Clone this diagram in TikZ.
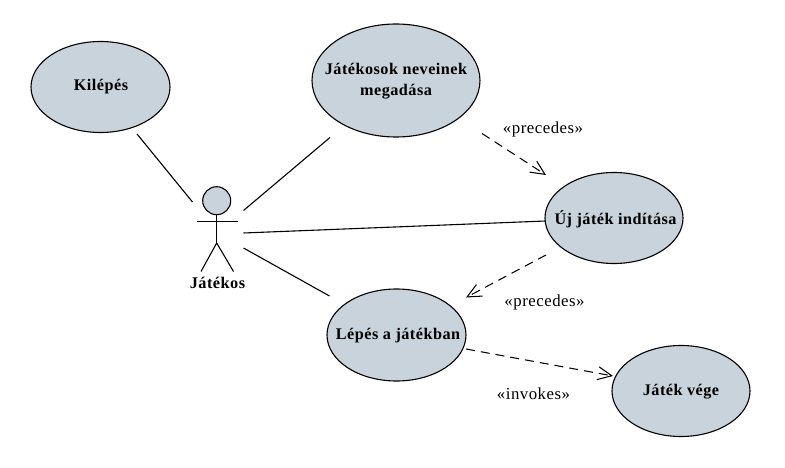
\documentclass[tikz,border=0pt]{standalone}
\usepackage{fontspec}
\setmainfont{Liberation Serif}[LetterSpace=3]
\usetikzlibrary{shapes.geometric,arrows.meta}
\definecolor{fillblue}{HTML}{C8D3DC}
\tikzset{
  usecase/.style={ellipse,draw=black,line width=1.1pt,fill=fillblue,inner sep=0pt},
  uclabel/.style={align=center,inner sep=0pt,font=\fontsize{16.2}{21}\selectfont\bfseries},
  assoc/.style={draw=black,line width=1.1pt},
  dep/.style={draw=black,line width=1.05pt,dash pattern=on 9pt off 6pt,-{Straight Barb[length=14pt,width=13pt,line width=1.05pt]}},
  stereo/.style={font=\fontsize{16.8}{20}\selectfont,inner sep=0pt},
  actorlabel/.style={font=\fontsize{16.3}{20}\selectfont\bfseries,inner sep=0pt}
}
\begin{document}
\begin{tikzpicture}[x=1pt,y=-1pt]
\useasboundingbox (0,0) rectangle (785,468);
\node[usecase,minimum width=139pt,minimum height=91pt] (kilepes) at (100.5,87) {};
\node[uclabel] (kilepesT) at (101,87) {Kilépés};
\node[usecase,minimum width=168pt,minimum height=113pt] (nevek) at (396,80.5) {};
\node[uclabel] (nevekT) at (396,81) {Játékosok neveinek\\megadása};
\node[usecase,minimum width=138pt,minimum height=91pt] (uj) at (614,218) {};
\node[uclabel] (ujT) at (615.5,219) {Új játék indítása};
\node[usecase,minimum width=139pt,minimum height=92pt] (lepes) at (396.5,335) {};
\node[uclabel] (lepesT) at (398,336) {Lépés a játékban};
\node[usecase,minimum width=138pt,minimum height=91pt] (vege) at (681,391) {};
\node[uclabel] (vegeT) at (681,391.5) {Játék vége};
% actor
\node[circle,draw=black,line width=1.1pt,fill=fillblue,minimum size=28pt,inner sep=0pt] (head) at (216.7,200.7) {};
\coordinate (armL) at (197,221.7);
\coordinate (armR) at (238,221.7);
\coordinate (hip) at (216.7,243);
\coordinate (legL) at (201,271.5);
\coordinate (legR) at (233.5,271.5);
\draw[assoc] (head.south) -- (hip);
\draw[assoc] (armL) -- (armR);
\draw[assoc] (legL) -- (hip) -- (legR);
\node[actorlabel] (actor) at (217.5,282.5) {Játékos};
% association ends
\coordinate (k1) at (137,134);
\coordinate (k2) at (192.5,202);
\coordinate (n1) at (330,137.5);
\coordinate (n2) at (243.5,210.5);
\coordinate (u1) at (545.5,221);
\coordinate (u2) at (243.5,233);
\coordinate (l1) at (329.5,296);
\coordinate (l2) at (243.5,248);
\draw[assoc] (k1) -- (k2);
\draw[assoc] (n1) -- (n2);
\draw[assoc] (u1) -- (u2);
\draw[assoc] (l1) -- (l2);
% dependencies
\coordinate (d1) at (482,133.5);
\coordinate (d2) at (546,175);
\coordinate (d3) at (546,255);
\coordinate (d4) at (466,297.5);
\coordinate (d5) at (466,349);
\coordinate (d6) at (613,376);
\draw[dep] (d1) -- (d2);
\draw[dep] (d3) -- (d4);
\draw[dep] (d5) -- (d6);
\node[stereo] (s1) at (543,129) {«precedes»};
\node[stereo] (s2) at (544.5,302) {«precedes»};
\node[stereo] (s3) at (533.5,394) {«invokes»};
\end{tikzpicture}
\end{document}
